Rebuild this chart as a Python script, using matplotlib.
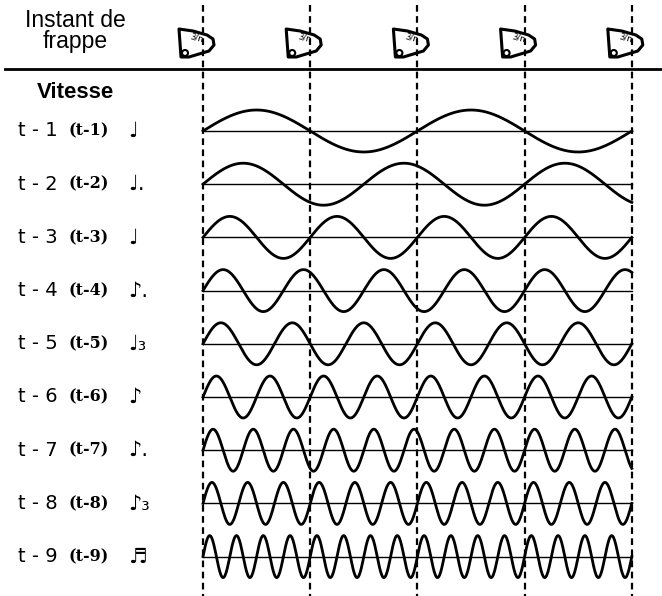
import numpy as np
import matplotlib.pyplot as plt
from matplotlib.patches import Polygon, Circle

# tempo labels and wave period (in beats) for each row
names = ["t-1", "t-2", "t-3", "t-4", "t-5", "t-6", "t-7", "t-8", "t-9"]
notes = ["♩", "♩.", "♩", "♪.", "♩₃", "♪", "♪.", "♪₃", "♬"]
periods = [2.0, 1.5, 1.0, 0.75, 2/3, 0.5, 0.375, 1/3, 0.25]
beats = [0, 1, 2, 3, 4]

fig = plt.figure(figsize=(6.62, 5.96), dpi=100)
ax = fig.add_axes([0, 0, 1, 1])
ax.set_xlim(0, 662)
ax.set_ylim(596, 0)
ax.axis("off")

x0, beat_w = 203, 107.2
row0, row_h, amp = 131, 53.2, 21

for b in beats:
    bx = x0 + b * beat_w
    ax.plot([bx, bx], [5, 596], color="black", lw=1.6, ls=(0, (3, 2)))
    # simple shoe icon
    sx, sy = bx - 24, 45
    shoe = Polygon([[sx, sy - 16], [sx + 14, sy - 14], [sx + 28, sy - 10],
                    [sx + 34, sy - 6], [sx + 35, sy], [sx + 30, sy + 6],
                    [sx + 10, sy + 12], [sx + 2, sy + 12]],
                   closed=True, fill=False, lw=2.2, ec="black", joinstyle="round")
    ax.add_patch(shoe)
    ax.add_patch(Circle((sx + 6, sy + 8), 3, fill=False, lw=1.5, ec="black"))
    ax.text(sx + 18, sy - 7, "3/n", fontsize=6, ha="center", va="center", rotation=-15)

ax.plot([5, 662], [69, 69], color="black", lw=2)
ax.text(75, 31, "Instant de\nfrappe", fontsize=16.5, ha="center", va="center",
        family="Liberation Sans", linespacing=0.85)
ax.text(75, 92, "Vitesse", fontsize=16, ha="center", va="center",
        family="Liberation Sans", weight="bold")

for i, (nm, nt, p) in enumerate(zip(names, notes, periods)):
    yc = row0 + i * row_h
    ax.plot([x0, x0 + 4 * beat_w], [yc, yc], color="black", lw=1)
    t = np.linspace(0, 4, 800)
    ax.plot(x0 + t * beat_w, yc - amp * np.sin(2 * np.pi * t / p), color="black", lw=2)
    ax.text(18, yc, nm.replace("-", " - "), fontsize=14, va="center", family="DejaVu Sans")
    ax.text(68, yc, "(" + nm + ")", fontsize=11.5, va="center", weight="bold", family="DejaVu Serif")
    ax.text(128, yc, nt, fontsize=15, va="center", family="DejaVu Sans")

fig.savefig("out.png", dpi=100)
